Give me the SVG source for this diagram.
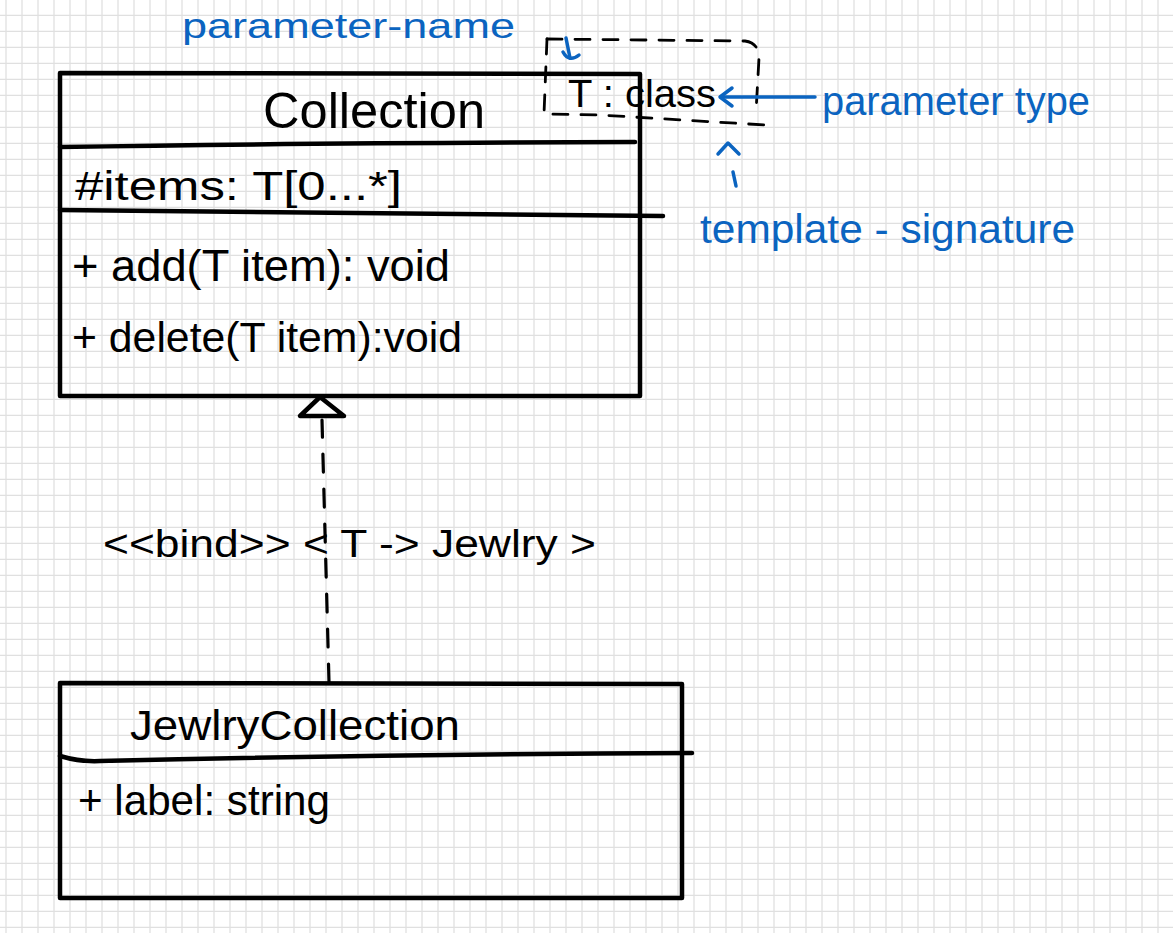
<svg xmlns="http://www.w3.org/2000/svg" width="1173" height="933" viewBox="0 0 1173 933">
  <style>
    .ink { fill: none; stroke: #000; stroke-width: 4.5; stroke-linecap: round; stroke-linejoin: round; }
    .head { fill: #fff; stroke: #000; stroke-width: 4.5; stroke-linejoin: round; }
    .dash { fill: none; stroke: #000; stroke-width: 2.8; stroke-linecap: round; stroke-dasharray: 15 13; }
    .bind { fill: none; stroke: #000; stroke-width: 3.2; stroke-linecap: round; stroke-dasharray: 18 17; }
    .blue { fill: none; stroke: #0b64c0; stroke-width: 3.5; stroke-linecap: round; stroke-linejoin: round; }
    .t { font-family: "Liberation Sans", Arial, sans-serif; fill: #000; }
    .bt { font-family: "Liberation Sans", Arial, sans-serif; fill: #0b64c0; }
  </style>
  <defs>
    <pattern id="grid" width="16" height="16" patternUnits="userSpaceOnUse">
      <path d="M6,0 V16 M0,15.5 H16" stroke="#e0e0e0" stroke-width="1.3" fill="none"/>
    </pattern>
  </defs>
  <rect width="1173" height="933" fill="#fff"/>
  <rect width="1173" height="933" fill="url(#grid)"/>

  <g id="node-collection">
    <path class="ink" d="M60,73 L640,74 L640,396 L60,396 Z"/>
    <path class="ink" d="M60,147 Q300,143 635,142"/>
    <path class="ink" d="M60,210 Q360,214 663,216"/>
    <text class="t" x="263" y="128" font-size="50" textLength="222" lengthAdjust="spacingAndGlyphs">Collection</text>
    <text class="t" x="75" y="200" font-size="40" textLength="327" lengthAdjust="spacingAndGlyphs">#items: T[0...*]</text>
    <text class="t" x="72" y="281" font-size="44" textLength="378" lengthAdjust="spacingAndGlyphs">+ add(T item): void</text>
    <text class="t" x="72" y="352" font-size="42" textLength="390" lengthAdjust="spacingAndGlyphs">+ delete(T item):void</text>
  </g>

  <g id="node-template-signature">
    <path class="dash" d="M547,39 L745,41 Q759,43 759,58 L756,112"/>
    <path class="dash" d="M547,39 L544,114 L600,115 L765,125"/>
    <text class="t" x="568" y="107" font-size="38" textLength="148" lengthAdjust="spacingAndGlyphs">T : class</text>
  </g>

  <g id="node-jewlry-collection">
    <path class="ink" d="M60,683 L682,684 L682,898 L60,898 Z"/>
    <path class="ink" d="M60,756 Q80,762 100,761 Q400,754 692,753"/>
    <text class="t" x="130" y="740" font-size="42" textLength="330" lengthAdjust="spacingAndGlyphs">JewlryCollection</text>
    <text class="t" x="78" y="815" font-size="42" textLength="252" lengthAdjust="spacingAndGlyphs">+ label: string</text>
  </g>

  <g id="connectors">
    <path class="bind" d="M329,682 L322,420"/>
    <path class="head" d="M320,397 L300,416 L344,416 Z"/>
    <text class="t" x="103" y="557" font-size="38" textLength="493" lengthAdjust="spacingAndGlyphs">&lt;&lt;bind&gt;&gt; &lt; T -&gt; Jewlry &gt;</text>
  </g>

  <g id="annotations">
    <text class="bt" x="182" y="38" font-size="35" textLength="333" lengthAdjust="spacingAndGlyphs">parameter-name</text>
    <path class="blue" d="M566,38 L570,58"/>
    <path class="blue" d="M563,52 Q569,63 579,55"/>
    <path class="blue" d="M815,97 L722,97"/>
    <path class="blue" d="M732,88 L720,97 L732,106"/>
    <text class="bt" x="822" y="115" font-size="40" textLength="268" lengthAdjust="spacingAndGlyphs">parameter type</text>
    <path class="blue" d="M718,154 L728,143 L739,154"/>
    <path class="blue" d="M733,172 L736,186"/>
    <text class="bt" x="700" y="243" font-size="40" textLength="375" lengthAdjust="spacingAndGlyphs">template - signature</text>
  </g>
</svg>
